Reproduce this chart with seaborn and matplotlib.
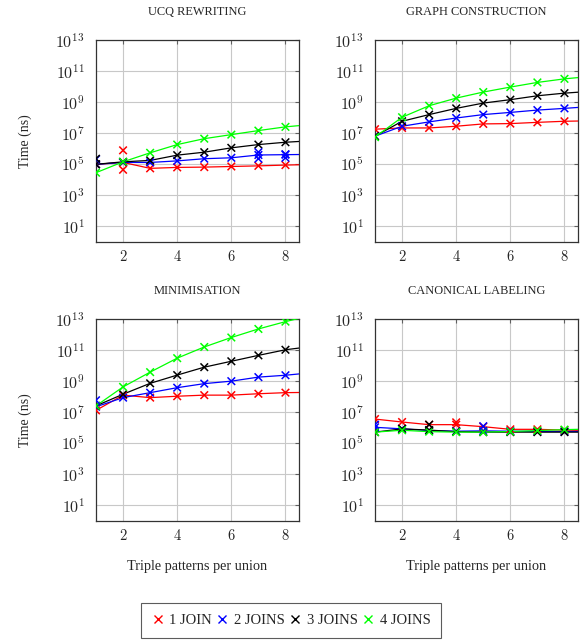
import numpy as np
import pandas as pd
import seaborn as sns
import matplotlib.pyplot as plt
from matplotlib.lines import Line2D
from matplotlib.ticker import FixedLocator, FuncFormatter

# triple patterns per union (x = 9 only carries the line to the axis edge)
tp = [1, 2, 3, 4, 5, 6, 7, 8, 9]
stages = ['UCQ REWRITING', 'GRAPH CONSTRUCTION', 'MINIMISATION', 'CANONICAL LABELING']
joins = ['1 JOIN', '2 JOINS', '3 JOINS', '4 JOINS']
colors = ['#ff0000', '#0000ff', '#000000', '#00ff00']

# log10 of time in ns
ucq_log = [
    [5.00, 5.12, 4.74, 4.80, 4.82, 4.86, 4.90, 4.95, 4.99],
    [5.00, 5.12, 5.12, 5.22, 5.36, 5.42, 5.60, 5.62, 5.64],
    [5.00, 5.16, 5.25, 5.59, 5.78, 6.06, 6.27, 6.42, 6.52],
    [4.46, 5.16, 5.74, 6.27, 6.65, 6.91, 7.17, 7.41, 7.57],
]
graph_log = [
    [7.26, 7.34, 7.34, 7.45, 7.60, 7.62, 7.70, 7.77, 7.80],
    [6.81, 7.45, 7.73, 7.98, 8.20, 8.34, 8.49, 8.60, 8.72],
    [6.81, 7.77, 8.20, 8.60, 8.94, 9.16, 9.41, 9.58, 9.70],
    [6.75, 8.03, 8.77, 9.26, 9.65, 9.97, 10.27, 10.50, 10.66],
]
mini_log = [
    [7.12, 8.10, 7.94, 8.03, 8.10, 8.10, 8.19, 8.26, 8.28],
    [7.35, 7.94, 8.26, 8.58, 8.84, 9.00, 9.26, 9.38, 9.55],
    [7.41, 8.16, 8.86, 9.39, 9.90, 10.28, 10.66, 11.02, 11.24],
    [7.41, 8.63, 9.58, 10.48, 11.20, 11.81, 12.36, 12.83, 13.25],
]
canon_log = [
    [6.56, 6.37, 6.20, 6.20, 6.07, 5.90, 5.90, 5.85, 5.82],
    [6.03, 5.93, 5.82, 5.78, 5.80, 5.78, 5.76, 5.76, 5.76],
    [5.72, 5.93, 5.85, 5.75, 5.72, 5.72, 5.72, 5.72, 5.72],
    [5.72, 5.84, 5.75, 5.72, 5.72, 5.76, 5.82, 5.88, 5.92],
]

# extra runs that stand apart from the line
extra_stage = [0, 0, 0, 0, 0, 0, 0, 0, 2, 3, 3, 3, 3]
extra_join = [0, 0, 1, 2, 1, 1, 1, 1, 1, 0, 1, 1, 2]
extra_tp = [2, 2, 1, 1, 7, 7, 8, 8, 1, 4, 1, 5, 3]
extra_log = [5.90, 4.65, 5.32, 5.36, 5.78, 5.36, 5.65, 5.42, 7.77, 6.35, 6.20, 6.10, 6.20]

all_logs = [ucq_log, graph_log, mini_log, canon_log]

rows = []
for s, stage_log in zip(stages, all_logs):
    for j, vals in zip(joins, stage_log):
        for x, v in zip(tp, vals):
            rows.append((s, j, x, 10 ** v))
df = pd.DataFrame(rows, columns=['stage', 'joins', 'tp', 'time'])
extra = pd.DataFrame({'stage': [stages[i] for i in extra_stage],
                      'joins': [joins[i] for i in extra_join],
                      'tp': extra_tp,
                      'time': 10 ** np.array(extra_log)})
pts = pd.concat([df, extra], ignore_index=True)

sns.set_style('white')
plt.rcParams['font.family'] = ['Liberation Serif', 'DejaVu Serif']
plt.rcParams['mathtext.fontset'] = 'cm'

palette = dict(zip(joins, colors))

fig = plt.figure(figsize=(5.86, 6.43), dpi=100)
W, H = 586.0, 643.0
lefts = [96, 375]
tops = [40, 319]
aw, ah = 203, 202

for k, s in enumerate(stages):
    r, c = divmod(k, 2)
    ax = fig.add_axes([lefts[c] / W, (H - tops[r] - ah) / H, aw / W, ah / H])
    sub = df[df.stage == s]
    sub_pts = pts[(pts.stage == s) & (pts.tp <= 8)]
    sns.lineplot(data=sub, x='tp', y='time', hue='joins', palette=palette,
                 estimator=None, legend=False, lw=0.9, ax=ax, zorder=3)
    sns.scatterplot(data=sub_pts, x='tp', y='time', hue='joins', palette=palette,
                    marker='x', s=30, linewidth=1.1, legend=False, ax=ax, zorder=4)
    ax.set_yscale('log')
    ax.set_xlim(1, 8.5)
    ax.set_ylim(1, 1e13)
    ax.yaxis.set_major_locator(FixedLocator([10.0 ** e for e in range(1, 14, 2)]))
    ax.yaxis.set_minor_locator(FixedLocator([]))
    ax.yaxis.set_major_formatter(FuncFormatter(lambda v, p: r'$10^{%d}$' % round(np.log10(v))))
    ax.xaxis.set_major_locator(FixedLocator([2, 4, 6, 8]))
    ax.xaxis.set_major_formatter(FuncFormatter(lambda v, p: r'$%d$' % v))
    ax.grid(True, color='#c8c8c8', lw=0.8, zorder=0)
    ax.set_axisbelow(True)
    ax.tick_params(direction='in', length=3, width=0.8, color='#606060',
                   top=True, right=True)
    ax.tick_params(axis='x', labelsize=10.5, pad=5)
    ax.tick_params(axis='y', labelsize=11.5, pad=8)
    for sp in ax.spines.values():
        sp.set_color('#333333')
        sp.set_linewidth(0.9)
    ax.set_title(s, fontsize=8.9, pad=18)
    if c == 0:
        ax.set_ylabel('Time (ns)', fontsize=10, labelpad=17)
    else:
        ax.set_ylabel('')
    if r == 1:
        ax.set_xlabel('Triple patterns per union', fontsize=10.3, labelpad=12)
    else:
        ax.set_xlabel('')

handles = [Line2D([], [], ls='none', marker='x', color=col, markersize=5.5,
                  markeredgewidth=1.0) for col in colors]
leg = fig.legend(handles, joins, loc='center', bbox_to_anchor=(0.497, 0.035),
                 ncol=4, frameon=True, fancybox=False, fontsize=10.5,
                 handlelength=0.8, handletextpad=0.4, columnspacing=0.3,
                 borderpad=0.75)
leg.get_frame().set_edgecolor('#333333')
leg.get_frame().set_linewidth(0.8)

fig.savefig('out.png', dpi=100)
